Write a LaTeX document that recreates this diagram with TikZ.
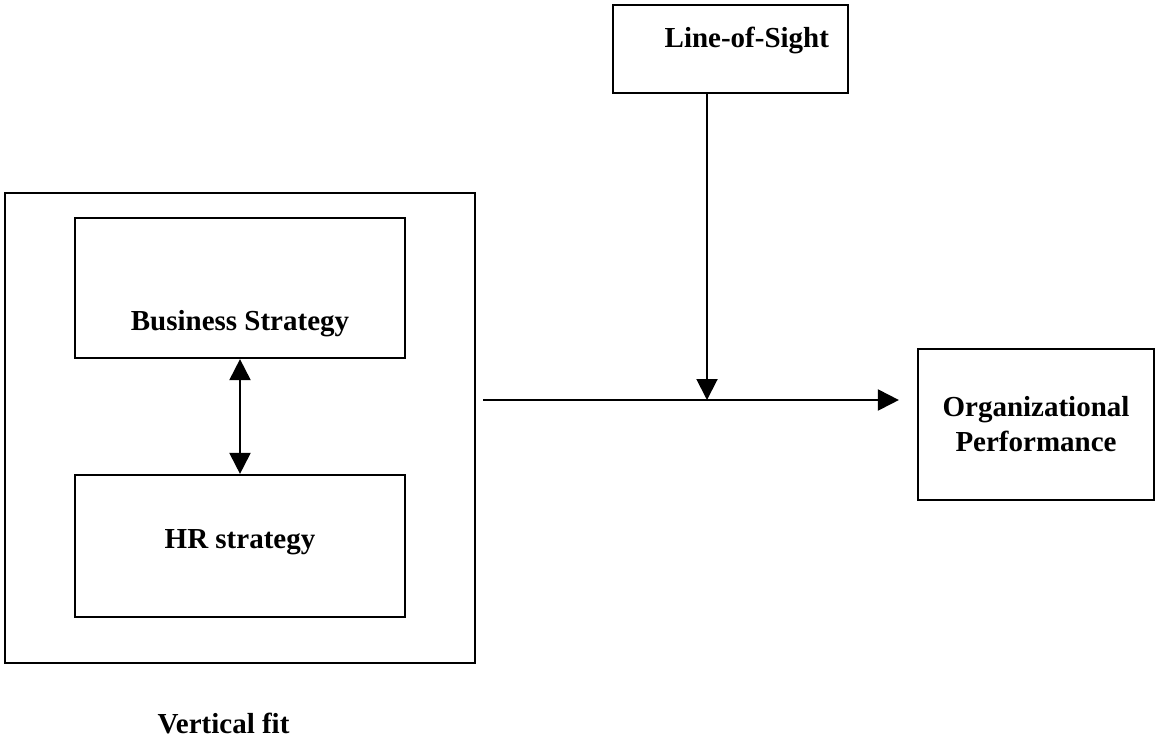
\documentclass[tikz,border=0pt]{standalone}
\usepackage{fontspec}
\setmainfont{Liberation Serif}
\usetikzlibrary{arrows.meta}

\begin{document}
\begin{tikzpicture}
[x=0.5pt, y=-0.5pt,
 box/.style={draw=black, line width=1.1pt, inner sep=0pt, fill=white},
 nodes={font=\bfseries\fontsize{14.5}{17.5}\selectfont},
 >={Triangle[width=10.5pt, length=10.5pt]}, line width=1pt]
\useasboundingbox (0,0) rectangle (1156,740);

\node (vfit) at (240,428) [box, fill=none, minimum width=235pt, minimum height=235pt] {};
\node (bus) at (240,288) [box, minimum width=165pt, text height=56pt, text depth=14pt] {Business Strategy};
\node (hr) at (240,546) [box, minimum width=165pt, text height=36.5pt, text depth=34.5pt] {HR strategy};
\node (vfitlabel) at (223.5,733) [anchor=base] {Vertical fit};
\draw[<->] (bus) -- (hr);

\node (los) at (730.5,49) [box, inner xsep=9.5pt, text width=98.5pt, align=right, text height=21pt, text depth=23pt] {Line-of-Sight};
\node (org) at (1036,424.5) [box, minimum width=118pt, minimum height=75.5pt, align=center] {Organizational\\Performance};
\coordinate (meet) at (707,400);
\draw[->] (los.south -| meet) -- (meet);
\draw[->, shorten <=3.5pt, shorten >=9pt] (vfit.east |- meet) -- (org.west |- meet);
\end{tikzpicture}
\end{document}
